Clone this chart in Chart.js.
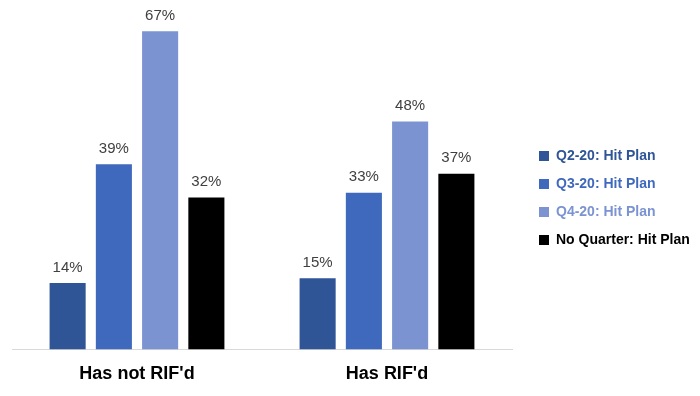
<!DOCTYPE html>
<html lang="en">
<head>
    <meta charset="UTF-8">
    <title>Hit Plan by RIF status</title>
    <script src="https://cdn.jsdelivr.net/npm/chart.js"></script>
    <style>
        body { margin: 0; background: #fff; }
        #wrap { width: 700px; height: 396px; position: relative; }
    </style>
</head>
<body>
    <div id="wrap"><canvas id="hitChart"></canvas></div>

    <script>
        // Data
        const categories = ["Has not RIF'd", "Has RIF'd"];
        const seriesNames = ['Q2-20: Hit Plan', 'Q3-20: Hit Plan', 'Q4-20: Hit Plan', 'No Quarter: Hit Plan'];
        const q2Values = [14, 15];
        const q3Values = [39, 33];
        const q4Values = [67, 48];
        const noQuarterValues = [32, 37];
        const seriesColors = ['#2F5597', '#3F69BC', '#7B93D1', '#000000'];

        const fontFamily = "'Liberation Sans Narrow', 'Arial Narrow', Arial, sans-serif";

        // Percent labels above each bar
        const valueLabels = {
            id: 'valueLabels',
            afterDatasetsDraw(chart) {
                const ctx = chart.ctx;
                ctx.save();
                ctx.font = '15px ' + fontFamily;
                ctx.fillStyle = '#404040';
                ctx.textAlign = 'center';
                ctx.textBaseline = 'bottom';
                chart.data.datasets.forEach((ds, i) => {
                    chart.getDatasetMeta(i).data.forEach((bar, j) => {
                        ctx.fillText(ds.data[j] + '%', bar.x, bar.y - 8);
                    });
                });
                ctx.restore();
            }
        };

        const allValues = [q2Values, q3Values, q4Values, noQuarterValues];

        new Chart(document.getElementById('hitChart'), {
            type: 'bar',
            data: {
                labels: categories,
                datasets: seriesNames.map((name, i) => ({
                    label: name,
                    data: allValues[i],
                    backgroundColor: seriesColors[i],
                    categoryPercentage: 0.74,
                    barPercentage: 0.78
                }))
            },
            plugins: [valueLabels],
            options: {
                responsive: true,
                maintainAspectRatio: false,
                animation: false,
                layout: { padding: { left: 12, right: 4, top: 5, bottom: 5 } },
                plugins: {
                    tooltip: { enabled: false },
                    legend: {
                        position: 'right',
                        labels: {
                            boxWidth: 10,
                            boxHeight: 10,
                            padding: 14,
                            font: { family: fontFamily, size: 14, weight: 'bold' },
                            generateLabels(chart) {
                                return chart.data.datasets.map((ds, i) => ({
                                    text: ds.label,
                                    fillStyle: seriesColors[i],
                                    strokeStyle: seriesColors[i],
                                    lineWidth: 0,
                                    fontColor: seriesColors[i],
                                    datasetIndex: i
                                }));
                            }
                        }
                    }
                },
                scales: {
                    x: {
                        grid: { display: false },
                        border: { color: '#D9D9D9', width: 1 },
                        ticks: {
                            color: '#000',
                            padding: 6,
                            font: { family: fontFamily, size: 18, weight: 'bold' }
                        }
                    },
                    y: {
                        position: 'right',
                        min: 0,
                        max: 72.5,
                        grid: { display: false },
                        border: { display: false },
                        ticks: { display: false },
                        // empty strip between the bars and the legend
                        afterFit(scale) { scale.width = 13; }
                    }
                }
            }
        });
    </script>
</body>
</html>
